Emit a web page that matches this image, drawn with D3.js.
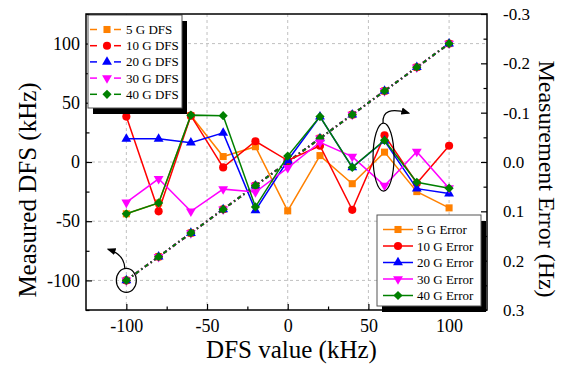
<!DOCTYPE html>
<html>
<head>
<meta charset="utf-8">
<script src="https://cdn.jsdelivr.net/npm/d3@7"></script>
<style>
  body { margin: 0; background: #fff; }
  svg text { font-family: "Liberation Serif", "Times New Roman", Times, "DejaVu Serif", serif !important; fill: #000; }
</style>
</head>
<body>
<svg id="chart" width="564" height="366"></svg>
<script>
// DFS set values (kHz)
var dfsValues = [-100, -80, -60, -40, -20, 0, 20, 40, 60, 80, 100];
var seriesNames = ["5 G", "10 G", "20 G", "30 G", "40 G"];

// measured DFS (kHz), left axis - all sit on the diagonal
var dfs5G  = [-100, -80, -60, -40, -20, 0, 20, 40, 60, 80, 100];
var dfs10G = [-100, -80, -60, -40, -20, 0, 20, 40, 60, 80, 100];
var dfs20G = [-100, -80, -60, -40, -20, 0, 20, 40, 60, 80, 100];
var dfs30G = [-100, -80, -60, -40, -20, 0, 20, 40, 60, 80, 100];
var dfs40G = [-100, -80, -60, -40, -20, 0, 20, 40, 60, 80, 100];

// measurement error (Hz), right axis (reversed)
var err5G  = [0.105, 0.083, -0.094, -0.011, -0.031, 0.099, -0.013, 0.044, -0.020, 0.060, 0.093];
var err10G = [-0.092, 0.100, -0.094, 0.011, -0.042, -0.003, -0.033, 0.097, -0.054, 0.043, -0.033];
var err20G = [-0.047, -0.047, -0.039, -0.059, 0.098, -0.003, -0.092, 0.011, -0.043, 0.054, 0.064];
var err30G = [0.082, 0.034, 0.100, 0.055, 0.061, 0.012, -0.040, -0.011, 0.048, -0.021, 0.053];
var err40G = [0.105, 0.083, -0.095, -0.094, 0.091, -0.012, -0.092, 0.011, -0.044, 0.041, 0.053];

var xTicks = [-100, -50, 0, 50, 100];
var xMinor = [-75, -25, 25, 75];
var yTicks = [-100, -50, 0, 50, 100];
var yMinor = [-125, -75, -25, 25, 75, 125];
var rTicks = [-0.3, -0.2, -0.1, 0.0, 0.1, 0.2, 0.3];
var rMinor = [-0.25, -0.15, -0.05, 0.05, 0.15, 0.25];

var colors = ["#FF8000", "#FF0000", "#0000FF", "#FF00FF", "#008000"];
var dfsData = [dfs5G, dfs10G, dfs20G, dfs30G, dfs40G];
var errData = [err5G, err10G, err20G, err30G, err40G];

var serif = '"Liberation Serif", "Times New Roman", Times, "DejaVu Serif", serif';
var left = 86, top_ = 14, right = 487, bottom = 310;

var svg = d3.select("#chart");

var x = d3.scaleLinear().domain([-125, 123.5]).range([left, right]);
var y = d3.scaleLinear().domain([-125, 125]).range([bottom, top_]);
var yR = d3.scaleLinear().domain([-0.3, 0.3]).range([top_, bottom]);

// marker shapes
var symbols = [
  {type: d3.symbolSquare, size: 50, rot: 0},
  {type: d3.symbolCircle, size: 52, rot: 0},
  {type: d3.symbolTriangle, size: 42, rot: 0},
  {type: d3.symbolTriangle, size: 42, rot: 180},
  {type: d3.symbolSquare, size: 42, rot: 45}
];
function sym(i) { return d3.symbol().type(symbols[i].type).size(symbols[i].size)(); }

// arrow head
svg.append("defs").append("marker")
  .attr("id", "arrow")
  .attr("viewBox", "0 0 10 10")
  .attr("refX", 8).attr("refY", 5)
  .attr("markerWidth", 9).attr("markerHeight", 9)
  .attr("markerUnits", "userSpaceOnUse")
  .attr("orient", "auto")
  .append("path").attr("d", "M0,1 L10,5 L0,9 Z").attr("fill", "#000");

// grid
var grid = svg.append("g").attr("stroke", "#c0c0c0").attr("stroke-dasharray", "3,3").attr("stroke-width", 1);
grid.selectAll(".gx").data(xTicks).enter().append("line")
  .attr("x1", d => x(d)).attr("x2", d => x(d)).attr("y1", top_).attr("y2", bottom);
grid.selectAll(".gy").data(yTicks).enter().append("line")
  .attr("x1", left).attr("x2", right).attr("y1", d => y(d)).attr("y2", d => y(d));

// DFS series (dash-dot) on the left axis
dfsData.forEach(function(vals, i) {
  var pts = dfsValues.map((v, k) => [v, vals[k]]);
  svg.append("path")
    .datum(pts)
    .attr("fill", "none")
    .attr("stroke", colors[i])
    .attr("stroke-width", 2)
    .attr("stroke-dasharray", "4,3,1.5,3")
    .attr("d", d3.line().x(d => x(d[0])).y(d => y(d[1])));
  svg.append("g").selectAll("path")
    .data(pts).enter().append("path")
    .attr("d", sym(i))
    .attr("fill", colors[i])
    .attr("transform", d => "translate(" + x(d[0]) + "," + y(d[1]) + ") rotate(" + symbols[i].rot + ")");
});

// error series (solid) on the right axis
errData.forEach(function(vals, i) {
  var pts = dfsValues.map((v, k) => [v, vals[k]]);
  svg.append("path")
    .datum(pts)
    .attr("fill", "none")
    .attr("stroke", colors[i])
    .attr("stroke-width", 1.5)
    .attr("d", d3.line().x(d => x(d[0])).y(d => yR(d[1])));
  svg.append("g").selectAll("path")
    .data(pts).enter().append("path")
    .attr("d", sym(i))
    .attr("fill", colors[i])
    .attr("transform", d => "translate(" + x(d[0]) + "," + yR(d[1]) + ") rotate(" + symbols[i].rot + ")");
});

// axes (ticks pointing inward)
function styleAxis(g, size) {
  g.attr("font-family", serif).attr("font-size", size);
  g.select(".domain").remove();
  g.selectAll("line").attr("stroke", "#000").attr("stroke-width", 1.2);
}
svg.append("g").attr("transform", "translate(0," + bottom + ")")
  .call(d3.axisBottom(x).tickValues(xTicks).tickSize(-6).tickPadding(9).tickFormat(d => String(d)))
  .call(g => styleAxis(g, 18));
svg.append("g").attr("transform", "translate(0," + bottom + ")")
  .call(d3.axisBottom(x).tickValues(xMinor).tickSize(-3.5).tickFormat(""))
  .call(g => styleAxis(g, 18));
svg.append("g").attr("transform", "translate(" + left + ",0)")
  .call(d3.axisLeft(y).tickValues(yTicks).tickSize(-6).tickPadding(6).tickFormat(d => String(d)))
  .call(g => styleAxis(g, 18));
svg.append("g").attr("transform", "translate(" + left + ",0)")
  .call(d3.axisLeft(y).tickValues(yMinor).tickSize(-3.5).tickFormat(""))
  .call(g => styleAxis(g, 18));
svg.append("g").attr("transform", "translate(" + right + ",0)")
  .call(d3.axisRight(yR).tickValues(rTicks).tickSize(-6).tickPadding(16).tickFormat(d => d.toFixed(1)))
  .call(g => styleAxis(g, 17));
svg.append("g").attr("transform", "translate(" + right + ",0)")
  .call(d3.axisRight(yR).tickValues(rMinor).tickSize(-3.5).tickFormat(""))
  .call(g => styleAxis(g, 17));

// axis titles
svg.append("text").text("DFS value (kHz)")
  .attr("x", (left + right) / 2 + 5).attr("y", 358)
  .attr("text-anchor", "middle").attr("font-family", serif).attr("font-size", 25);
svg.append("text").text("Measured DFS (kHz)")
  .attr("transform", "translate(36,190) rotate(-90)")
  .attr("text-anchor", "middle").attr("font-family", serif).attr("font-size", 25);
svg.append("text").text("Measurement Error (Hz)")
  .attr("transform", "translate(539,179) rotate(90)")
  .attr("text-anchor", "middle").attr("font-family", serif).attr("font-size", 24);

// callouts
svg.append("ellipse")
  .attr("cx", x(-100)).attr("cy", y(-100)).attr("rx", 10).attr("ry", 12)
  .attr("fill", "none").attr("stroke", "#000").attr("stroke-width", 1.2);
svg.append("path")
  .attr("d", "M" + (x(-100) - 1.5) + "," + (y(-100) - 12) + " Q" + (x(-100) - 2) + "," + (y(-100) - 26) + " " + (x(-100) - 18) + "," + (y(-100) - 31))
  .attr("fill", "none").attr("stroke", "#000").attr("stroke-width", 1.2).attr("marker-end", "url(#arrow)");
svg.append("ellipse")
  .attr("cx", x(60) - 1).attr("cy", yR(-0.01)).attr("rx", 10.5).attr("ry", 34)
  .attr("fill", "none").attr("stroke", "#000").attr("stroke-width", 1.2);
svg.append("path")
  .attr("d", "M" + (x(60) - 1.5) + "," + (yR(-0.01) - 34) + " Q" + (x(60) - 3) + "," + (yR(-0.01) - 52) + " " + (x(60) + 24) + "," + (yR(-0.01) - 44))
  .attr("fill", "none").attr("stroke", "#000").attr("stroke-width", 1.2).attr("marker-end", "url(#arrow)");

// legends
function legend(bx, by, bw, bh, step, label, dashed) {
  var g = svg.append("g");
  g.append("rect").attr("x", bx + 5).attr("y", by + 6).attr("width", bw).attr("height", bh).attr("fill", "#000");
  g.append("rect").attr("x", bx).attr("y", by).attr("width", bw).attr("height", bh)
    .attr("fill", "#fff").attr("stroke", "#555").attr("stroke-width", 1);
  seriesNames.forEach(function(n, i) {
    var cy = by + 14.5 + i * step;
    var mx = bx + 19;
    if (dashed) {
      g.append("line").attr("x1", bx + 2).attr("x2", bx + 9).attr("y1", cy).attr("y2", cy)
        .attr("stroke", colors[i]).attr("stroke-width", 1.5);
      g.append("line").attr("x1", bx + 26).attr("x2", bx + 33).attr("y1", cy).attr("y2", cy)
        .attr("stroke", colors[i]).attr("stroke-width", 1.5);
    } else {
      g.append("line").attr("x1", bx + 6).attr("x2", bx + 36).attr("y1", cy).attr("y2", cy)
        .attr("stroke", colors[i]).attr("stroke-width", 1.5);
      mx = bx + 21;
    }
    g.append("path").attr("d", sym(i)).attr("fill", colors[i])
      .attr("transform", "translate(" + mx + "," + cy + ") rotate(" + symbols[i].rot + ")");
    g.append("text").text(n + " " + label)
      .attr("x", bx + (dashed ? 38 : 40)).attr("y", cy + 4.5)
      .attr("font-family", serif).attr("font-size", 13);
  });
}
legend(88, 15, 94, 93, 16.2, "DFS", true);
legend(377, 215, 104, 91, 16.5, "Error", false);

// frame
svg.append("rect").attr("x", left).attr("y", top_).attr("width", right - left).attr("height", bottom - top_)
  .attr("fill", "none").attr("stroke", "#000").attr("stroke-width", 1.5);
</script>
</body>
</html>
